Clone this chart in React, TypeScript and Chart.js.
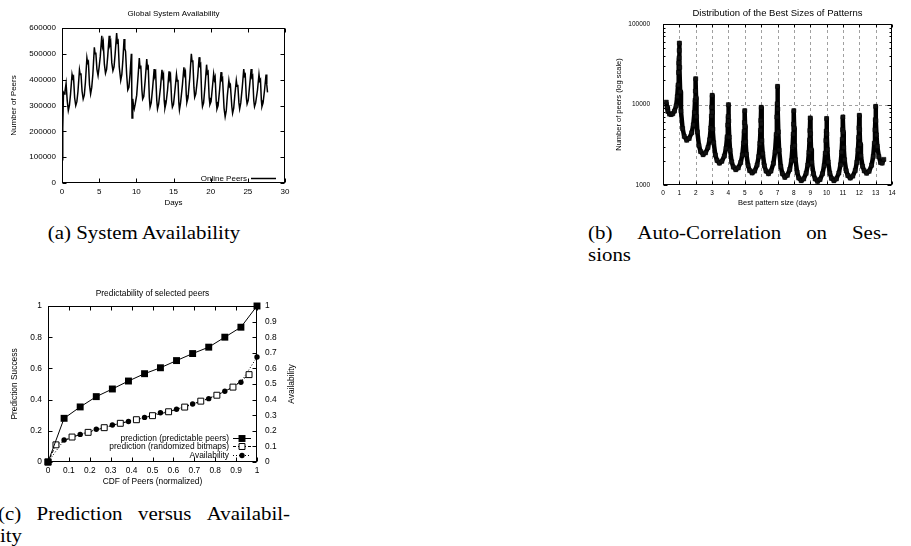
import React, { useEffect, useRef } from 'react';
import { Chart, registerables } from 'chart.js';

Chart.register(...registerables);

// ---------------- (a) Global System Availability ----------------
const availabilityDays = [
  0.0, 0.1, 0.2, 0.3, 0.4, 0.55, 0.7, 0.85, 1.0, 1.15, 1.35, 1.45, 1.55, 1.7, 1.85,
  2.0, 2.15, 2.35, 2.45, 2.55, 2.7, 2.85, 3.0, 3.15, 3.35, 3.45, 3.55, 3.7, 3.85,
  4.0, 4.15, 4.35, 4.45, 4.55, 4.7, 4.85, 5.0, 5.15, 5.35, 5.45, 5.55, 5.7, 5.85,
  6.0, 6.15, 6.35, 6.45, 6.55, 6.7, 6.85, 7.0, 7.15, 7.35, 7.45, 7.55, 7.7, 7.9,
  8.05, 8.2, 8.35, 8.45, 8.55, 8.7, 8.85, 9.0, 9.15, 9.33, 9.38, 9.42, 9.52, 9.62, 9.72, 9.85,
  10.05, 10.25, 10.4, 10.5, 10.6, 10.75, 10.85, 11.0, 11.2, 11.4, 11.5, 11.6, 11.75, 11.85,
  12.0, 12.2, 12.4, 12.5, 12.6, 12.75, 12.85, 13.0, 13.25, 13.45, 13.55, 13.65, 13.75, 13.85,
  14.0, 14.2, 14.4, 14.5, 14.6, 14.75, 14.85, 15.0, 15.2, 15.4, 15.5, 15.6, 15.72, 15.8,
  15.95, 16.2, 16.4, 16.5, 16.6, 16.72, 16.8, 16.95, 17.2, 17.4, 17.5, 17.6, 17.75, 17.85,
  18.0, 18.25, 18.45, 18.55, 18.65, 18.8, 18.9, 19.05, 19.25, 19.45, 19.55, 19.65, 19.8, 19.9,
  20.05, 20.2, 20.4, 20.5, 20.6, 20.75, 20.85, 21.0, 21.2, 21.4, 21.5, 21.6, 21.8, 21.95,
  22.1, 22.25, 22.45, 22.55, 22.65, 22.85, 22.95, 23.1, 23.25, 23.45, 23.55, 23.65, 23.8, 23.9,
  24.05, 24.25, 24.45, 24.55, 24.65, 24.8, 24.9, 25.05, 25.25, 25.45, 25.55, 25.65, 25.8, 25.9,
  26.05, 26.3, 26.5, 26.6, 26.7, 26.82, 26.9, 27.05, 27.25, 27.45, 27.55, 27.65,
];
const onlinePeers = [
  90000, 210000, 350000, 345000, 355000, 385000, 320000, 280000, 300000, 345000, 420000, 405000, 410000, 330000, 300000,
  315000, 355000, 438000, 420000, 425000, 355000, 325000, 340000, 390000, 484000, 465000, 470000, 380000, 345000,
  370000, 420000, 525000, 500000, 505000, 440000, 416000, 450000, 490000, 570000, 530000, 545000, 460000, 425000,
  440000, 490000, 570000, 535000, 545000, 465000, 435000, 450000, 500000, 580000, 545000, 550000, 450000, 397000,
  420000, 480000, 557000, 520000, 510000, 420000, 360000, 370000, 420000, 500000, 380000, 252000, 326000, 300000, 287000, 305000,
  340000, 420000, 484000, 445000, 455000, 360000, 325000, 335000, 400000, 480000, 445000, 450000, 330000, 294000,
  310000, 370000, 441000, 415000, 425000, 320000, 287000, 305000, 370000, 438000, 410000, 420000, 320000, 290000,
  310000, 360000, 432000, 405000, 415000, 320000, 294000, 305000, 360000, 420000, 395000, 400000, 310000, 283000,
  310000, 380000, 448000, 420000, 430000, 340000, 313000, 330000, 410000, 500000, 470000, 475000, 370000, 332000,
  345000, 410000, 487000, 455000, 460000, 330000, 296000, 310000, 380000, 458000, 425000, 430000, 330000, 304000,
  315000, 360000, 422000, 400000, 410000, 315000, 287000, 300000, 360000, 429000, 400000, 405000, 290000, 257000,
  280000, 340000, 397000, 375000, 380000, 295000, 270000, 290000, 340000, 397000, 375000, 380000, 310000, 287000,
  310000, 370000, 441000, 415000, 420000, 330000, 306000, 320000, 380000, 441000, 410000, 415000, 320000, 296000,
  310000, 360000, 420000, 395000, 400000, 320000, 296000, 310000, 360000, 420000, 380000, 351000,
];
const daysTicks = [0, 5, 10, 15, 20, 25, 30];
const peersTicks = [0, 100000, 200000, 300000, 400000, 500000, 600000];

// ---------------- (b) Distribution of the Best Sizes of Patterns ----------------
const patternSizeDays = [
  0.2, 0.25, 0.3, 0.4, 0.5, 0.6, 0.7, 0.8, 0.87, 0.92, 0.95, 0.97, 0.98, 0.99, 1.0,
  1.02, 1.05, 1.1, 1.2, 1.3, 1.45, 1.6, 1.75, 1.85, 1.92, 1.96, 1.98, 2.0,
  2.02, 2.05, 2.1, 2.2, 2.3, 2.45, 2.6, 2.75, 2.85, 2.92, 2.96, 2.98, 3.0,
  3.02, 3.05, 3.1, 3.2, 3.3, 3.45, 3.6, 3.75, 3.85, 3.92, 3.96, 3.98, 4.0,
  4.02, 4.05, 4.1, 4.2, 4.3, 4.45, 4.6, 4.75, 4.85, 4.92, 4.96, 4.98, 5.0,
  5.02, 5.05, 5.1, 5.2, 5.3, 5.45, 5.6, 5.75, 5.85, 5.92, 5.96, 5.98, 6.0,
  6.02, 6.05, 6.1, 6.2, 6.3, 6.45, 6.6, 6.75, 6.85, 6.92, 6.96, 6.98, 7.0,
  7.02, 7.05, 7.1, 7.2, 7.3, 7.45, 7.6, 7.75, 7.85, 7.92, 7.96, 7.98, 8.0,
  8.02, 8.05, 8.1, 8.2, 8.3, 8.45, 8.6, 8.75, 8.85, 8.92, 8.96, 8.98, 9.0,
  9.02, 9.05, 9.1, 9.2, 9.3, 9.45, 9.6, 9.75, 9.85, 9.92, 9.96, 9.98, 10.0,
  10.02, 10.05, 10.1, 10.2, 10.3, 10.45, 10.6, 10.75, 10.85, 10.92, 10.96, 10.98, 11.0,
  11.02, 11.05, 11.1, 11.2, 11.3, 11.45, 11.6, 11.75, 11.85, 11.92, 11.96, 11.98, 12.0,
  12.02, 12.05, 12.1, 12.2, 12.3, 12.45, 12.6, 12.75, 12.85, 12.92, 12.96, 12.98, 13.0,
  13.02, 13.05, 13.1, 13.2, 13.3, 13.4, 13.5,
];
const patternPeers = [
  10700, 9200, 8200, 7600, 7500, 7700, 8300, 9600, 12500, 17500, 25000, 33000, 38000, 47000, 58000,
  28900, 14400, 8280, 5020, 4020, 3600, 3790, 4440, 5580, 7940, 11300, 14700, 20900,
  12100, 7060, 4570, 3090, 2600, 2380, 2510, 2920, 3640, 5110, 7180, 9270, 13000,
  8010, 4930, 3350, 2360, 2020, 1870, 1970, 2290, 2840, 3970, 5540, 7130, 9950,
  6250, 3930, 2710, 1940, 1670, 1550, 1630, 1900, 2360, 3310, 4640, 5970, 8380,
  5360, 3440, 2400, 1750, 1510, 1410, 1490, 1770, 2250, 3280, 4780, 6340, 9220,
  5740, 3570, 2440, 1730, 1490, 1380, 1490, 1860, 2580, 4250, 7000, 10200, 16800,
  8770, 4570, 2720, 1700, 1380, 1245, 1320, 1560, 2000, 2940, 4300, 5710, 8380,
  5080, 3080, 2060, 1440, 1220, 1130, 1190, 1400, 1770, 2540, 3630, 4750, 6800,
  4330, 2750, 1910, 1380, 1190, 1110, 1170, 1380, 1740, 2490, 3570, 4680, 6700,
  4300, 2750, 1930, 1400, 1210, 1130, 1190, 1410, 1780, 2560, 3700, 4860, 7000,
  4520, 2920, 2060, 1500, 1310, 1220, 1290, 1510, 1910, 2740, 3920, 5130, 7340,
  4850, 3210, 2300, 1710, 1500, 1400, 1480, 1760, 2260, 3310, 4850, 6470, 9480,
  6310, 4190, 3020, 2250, 1900, 1870, 2080,
];
const sizeTicks = [0, 1, 2, 3, 4, 5, 6, 7, 8, 9, 10, 11, 12, 13, 14];
const sizeGrid = [1, 2, 3, 4, 5, 6, 7, 8, 9, 10, 11, 12, 13];
const logTicks = [1000, 10000, 100000];
const logGrid = [10000];
const logMinorTicks = [2000, 3000, 4000, 5000, 6000, 7000, 8000, 9000, 20000, 30000, 40000, 50000, 60000, 70000, 80000, 90000];

// ---------------- (c) Predictability of selected peers ----------------
const cdfPeers = [0, 0.077, 0.154, 0.231, 0.308, 0.385, 0.462, 0.538, 0.615, 0.692, 0.769, 0.846, 0.923, 1];
const predictableSuccess = [0, 0.28, 0.353, 0.419, 0.468, 0.519, 0.566, 0.604, 0.65, 0.695, 0.736, 0.8, 0.864, 1];
const cdfRandomized = [0, 0.038, 0.115, 0.192, 0.269, 0.346, 0.423, 0.5, 0.577, 0.654, 0.731, 0.808, 0.885, 0.962];
const randomizedSuccess = [0, 0.11, 0.16, 0.19, 0.22, 0.248, 0.271, 0.297, 0.322, 0.352, 0.39, 0.428, 0.48, 0.56];
const peerAvailability = [0, 0.141, 0.177, 0.21, 0.237, 0.26, 0.286, 0.316, 0.338, 0.372, 0.406, 0.453, 0.511, 0.673];
const cdfTicks = [0, 0.1, 0.2, 0.3, 0.4, 0.5, 0.6, 0.7, 0.8, 0.9, 1];
const successTicks = [0, 0.2, 0.4, 0.6, 0.8, 1];
const availabilityTicks = [0, 0.1, 0.2, 0.3, 0.4, 0.5, 0.6, 0.7, 0.8, 0.9, 1];

// ---------------- helpers ----------------
const SANS = '"Liberation Sans", Arial, Helvetica, sans-serif';
const SERIF = '"Liberation Serif", "Times New Roman", serif';

type Side = 'left' | 'right' | 'top' | 'bottom';
interface TickSet { scale: string; values: number[]; sides: Side[]; len: number }
interface GridSet { scale: string; values: number[] }
interface LegendCfg { textRight: number; sampleFrom: number; sampleTo: number; firstRow: number; rowStep: number; font: string }
interface TextCfg { text: string; x: number; y: number; rotate: number; font: string }

function makeFrame(cfg: { ticks: TickSet[]; grid?: GridSet[]; legend?: LegendCfg; texts?: TextCfg[] }) {
  return {
    id: 'gnuFrame',
    beforeDatasetsDraw(chart: any) {
      if (!cfg.grid) return;
      const { ctx, chartArea: a } = chart;
      ctx.save();
      ctx.strokeStyle = '#a0a0a0';
      ctx.lineWidth = 1;
      ctx.setLineDash([3, 3]);
      for (const g of cfg.grid) {
        const sc = chart.scales[g.scale];
        for (const v of g.values) {
          const p = Math.round(sc.getPixelForValue(v)) + 0.5;
          ctx.beginPath();
          if (sc.isHorizontal()) { ctx.moveTo(p, a.top); ctx.lineTo(p, a.bottom); }
          else { ctx.moveTo(a.left, p); ctx.lineTo(a.right, p); }
          ctx.stroke();
        }
      }
      ctx.restore();
    },
    afterDatasetsDraw(chart: any) {
      const { ctx, chartArea: a } = chart;
      const L = Math.round(a.left) + 0.5, R = Math.round(a.right) - 0.5;
      const T = Math.round(a.top) + 0.5, B = Math.round(a.bottom) - 0.5;
      ctx.save();
      ctx.strokeStyle = '#000';
      ctx.lineWidth = 1;
      ctx.setLineDash([]);
      ctx.beginPath();
      for (const t of cfg.ticks) {
        const sc = chart.scales[t.scale];
        for (const v of t.values) {
          const p = Math.round(sc.getPixelForValue(v)) + 0.5;
          for (const s of t.sides) {
            if (s === 'bottom') { ctx.moveTo(p, B); ctx.lineTo(p, B - t.len); }
            if (s === 'top') { ctx.moveTo(p, T); ctx.lineTo(p, T + t.len); }
            if (s === 'left') { ctx.moveTo(L, p); ctx.lineTo(L + t.len, p); }
            if (s === 'right') { ctx.moveTo(R, p); ctx.lineTo(R - t.len, p); }
          }
        }
      }
      ctx.stroke();
      ctx.strokeRect(L, T, R - L, B - T);

      if (cfg.legend) {
        const lg = cfg.legend;
        chart.data.datasets.forEach((ds: any, i: number) => {
          const y = Math.round(lg.firstRow + i * lg.rowStep) + 0.5;
          ctx.font = lg.font;
          ctx.fillStyle = '#000';
          ctx.textAlign = 'right';
          ctx.textBaseline = 'middle';
          ctx.fillText(ds.label, lg.textRight, y);
          ctx.save();
          ctx.strokeStyle = ds.borderColor;
          ctx.lineWidth = ds.borderWidth;
          ctx.setLineDash(ds.borderDash || []);
          ctx.beginPath();
          ctx.moveTo(lg.sampleFrom, y);
          ctx.lineTo(lg.sampleTo, y);
          ctx.stroke();
          ctx.restore();
          const r = ds.pointRadius || 0;
          if (r > 0) {
            const cx = (lg.sampleFrom + lg.sampleTo) / 2;
            ctx.save();
            ctx.setLineDash([]);
            ctx.fillStyle = ds.pointBackgroundColor;
            ctx.strokeStyle = ds.pointBorderColor;
            ctx.lineWidth = ds.pointBorderWidth;
            ctx.beginPath();
            if (ds.pointStyle === 'rect') {
              const h = Math.SQRT1_2 * r;
              ctx.rect(cx - h, y - h, 2 * h, 2 * h);
            } else {
              ctx.arc(cx, y, r, 0, Math.PI * 2);
            }
            ctx.fill();
            if (ds.pointBorderWidth > 0) ctx.stroke();
            ctx.restore();
          }
        });
      }
      if (cfg.texts) {
        for (const t of cfg.texts) {
          ctx.save();
          ctx.font = t.font;
          ctx.fillStyle = '#000';
          ctx.textAlign = 'center';
          ctx.textBaseline = 'middle';
          ctx.translate(t.x, t.y);
          ctx.rotate(t.rotate);
          ctx.fillText(t.text, 0, 0);
          ctx.restore();
        }
      }
      ctx.restore();
    },
  };
}

const setTicks = (values: number[]) => (axis: any) => {
  axis.ticks = values.map((value) => ({ value }));
};
const plainLabel = (v: any) => String(v);
const noGrid = { display: false, drawTicks: false };
const noBorder = { display: false };

// ---------------- chart builders ----------------
function buildA(canvas: HTMLCanvasElement) {
  const font = { family: SANS, size: 8, lineHeight: 1.2 };
  return new Chart(canvas, {
    type: 'line',
    data: {
      datasets: [{
        label: 'Online Peers',
        data: availabilityDays.map((d, i) => ({ x: d, y: onlinePeers[i] })),
        borderColor: '#000',
        borderWidth: 1.5,
        pointRadius: 0,
        tension: 0,
        fill: false,
      }],
    },
    options: {
      animation: false,
      responsive: false,
      events: [],
      layout: { padding: { left: 0, right: 15, top: 0, bottom: 0 } },
      plugins: {
        legend: { display: false },
        tooltip: { enabled: false },
        title: { display: true, text: 'Global System Availability', fullSize: false, color: '#000', font: { ...font, weight: 'normal' }, padding: { top: 9.2, bottom: 9.2 } },
      },
      scales: {
        x: {
          type: 'linear', min: 0, max: 30,
          afterBuildTicks: setTicks(daysTicks),
          afterFit: (s: any) => { s.height = 32; },
          grid: noGrid, border: noBorder,
          ticks: { font, color: '#000', padding: 4.2, maxRotation: 0, autoSkip: false, callback: plainLabel },
          title: { display: true, text: 'Days', color: '#000', font, padding: { top: 0, bottom: 7.2 } },
        },
        y: {
          type: 'linear', min: 0, max: 600000,
          afterBuildTicks: setTicks(peersTicks),
          afterFit: (s: any) => { s.width = 62; },
          grid: noGrid, border: noBorder,
          ticks: { font, color: '#000', padding: 6, autoSkip: false, callback: plainLabel },
          title: { display: true, text: 'Number of Peers', color: '#000', font, padding: { top: 9.2, bottom: 0 } },
        },
      },
    } as any,
    plugins: [makeFrame({
      ticks: [
        { scale: 'x', values: daysTicks, sides: ['bottom', 'top'], len: 4 },
        { scale: 'y', values: peersTicks, sides: ['left', 'right'], len: 4 },
      ],
      legend: { textRight: 247, sampleFrom: 251, sampleTo: 276, firstRow: 177.5, rowStep: 9, font: `8px ${SANS}` },
    })],
  });
}

function buildB(canvas: HTMLCanvasElement) {
  const tickFont = { family: SANS, size: 6.5, lineHeight: 1.2 };
  const labelFont = { family: SANS, size: 7.5, lineHeight: 1.2 };
  return new Chart(canvas, {
    type: 'line',
    data: {
      datasets: [{
        label: 'best pattern sizes',
        data: patternSizeDays.map((d, i) => ({ x: d, y: patternPeers[i] })),
        borderColor: '#000',
        borderWidth: 4.5,
        borderJoinStyle: 'round',
        pointStyle: 'rect',
        pointRadius: 2.9,
        pointBackgroundColor: '#111',
        pointBorderColor: '#000',
        pointBorderWidth: 0.5,
        tension: 0,
        fill: false,
      }],
    },
    options: {
      animation: false,
      responsive: false,
      events: [],
      layout: { padding: { left: 0, right: 19, top: 0, bottom: 0 } },
      plugins: {
        legend: { display: false },
        tooltip: { enabled: false },
        title: { display: true, text: 'Distribution of the Best Sizes of Patterns', fullSize: false, color: '#000', font: { family: SANS, size: 9.5, lineHeight: 1.2, weight: 'normal' }, padding: { top: 7.8, bottom: 4.8 } },
      },
      scales: {
        x: {
          type: 'linear', min: 0, max: 14,
          afterBuildTicks: setTicks(sizeTicks),
          afterFit: (s: any) => { s.height = 30; },
          grid: noGrid, border: noBorder,
          ticks: { font: tickFont, color: '#000', padding: 4.1, maxRotation: 0, autoSkip: false, callback: plainLabel },
          title: { display: true, text: 'Best pattern size (days)', color: '#000', font: labelFont, padding: { top: 0, bottom: 7.2 } },
        },
        y: {
          type: 'logarithmic', min: 1000, max: 100000,
          afterBuildTicks: setTicks(logTicks),
          afterFit: (s: any) => { s.width = 73; },
          grid: noGrid, border: noBorder,
          ticks: { font: tickFont, color: '#000', padding: 13, autoSkip: false, callback: plainLabel },
          title: { display: true, text: 'Number of peers (log scale)', color: '#000', font: labelFont, padding: { top: 24.5, bottom: 0 } },
        },
      },
    } as any,
    plugins: [makeFrame({
      grid: [
        { scale: 'x', values: sizeGrid },
        { scale: 'y', values: logGrid },
      ],
      ticks: [
        { scale: 'x', values: sizeTicks, sides: ['bottom', 'top'], len: 3 },
        { scale: 'y', values: logTicks, sides: ['left', 'right'], len: 4 },
        { scale: 'y', values: logMinorTicks, sides: ['left', 'right'], len: 2 },
      ],
    })],
  });
}

function buildC(canvas: HTMLCanvasElement) {
  const font = { family: SANS, size: 8.4, lineHeight: 1.2 };
  return new Chart(canvas, {
    type: 'line',
    data: {
      datasets: [
        {
          label: 'prediction (predictable peers)',
          data: cdfPeers.map((x, i) => ({ x, y: predictableSuccess[i] })),
          yAxisID: 'y',
          borderColor: '#000', borderWidth: 1, borderDash: [],
          pointStyle: 'rect', pointRadius: 4.9,
          pointBackgroundColor: '#000', pointBorderColor: '#000', pointBorderWidth: 0,
          tension: 0, fill: false, clip: false,
        },
        {
          label: 'prediction (randomized bitmaps)',
          data: cdfRandomized.map((x, i) => ({ x, y: randomizedSuccess[i] })),
          yAxisID: 'y',
          borderColor: '#000', borderWidth: 1, borderDash: [3, 2],
          pointStyle: 'rect', pointRadius: 4.2,
          pointBackgroundColor: '#fff', pointBorderColor: '#000', pointBorderWidth: 1,
          tension: 0, fill: false, clip: false,
        },
        {
          label: 'Availability',
          data: cdfPeers.map((x, i) => ({ x, y: peerAvailability[i] })),
          yAxisID: 'y2',
          borderColor: '#000', borderWidth: 1, borderDash: [1, 2],
          pointStyle: 'circle', pointRadius: 2.7,
          pointBackgroundColor: '#000', pointBorderColor: '#000', pointBorderWidth: 0,
          tension: 0, fill: false, clip: false,
        },
      ],
    },
    options: {
      animation: false,
      responsive: false,
      events: [],
      layout: { padding: { left: 0, right: 0, top: 0, bottom: 0 } },
      plugins: {
        legend: { display: false },
        tooltip: { enabled: false },
        title: { display: true, text: 'Predictability of selected peers', fullSize: false, color: '#000', font: { ...font, weight: 'normal' }, padding: { top: 8.3, bottom: 7.6 } },
      },
      scales: {
        x: {
          type: 'linear', min: 0, max: 1,
          afterBuildTicks: setTicks(cdfTicks),
          afterFit: (s: any) => { s.height = 33; },
          grid: noGrid, border: noBorder,
          ticks: { font, color: '#000', padding: 4, maxRotation: 0, autoSkip: false, callback: plainLabel },
          title: { display: true, text: 'CDF of Peers (normalized)', color: '#000', font, padding: { top: 0, bottom: 8 } },
        },
        y: {
          type: 'linear', position: 'left', min: 0, max: 1,
          afterBuildTicks: setTicks(successTicks),
          afterFit: (s: any) => { s.width = 48; },
          grid: noGrid, border: noBorder,
          ticks: { font, color: '#000', padding: 6, autoSkip: false, callback: plainLabel },
          title: { display: true, text: 'Prediction Success', color: '#000', font, padding: { top: 10, bottom: 0 } },
        },
        y2: {
          type: 'linear', position: 'right', min: 0, max: 1,
          afterBuildTicks: setTicks(availabilityTicks),
          afterFit: (s: any) => { s.width = 43; },
          grid: noGrid, border: noBorder,
          ticks: { font, color: '#000', padding: 8, autoSkip: false, callback: plainLabel },
          title: { display: false },
        },
      },
    } as any,
    plugins: [makeFrame({
      ticks: [
        { scale: 'x', values: cdfTicks, sides: ['bottom', 'top'], len: 4 },
        { scale: 'y', values: successTicks, sides: ['left'], len: 4 },
        { scale: 'y2', values: availabilityTicks, sides: ['right'], len: 4 },
      ],
      legend: { textRight: 229, sampleFrom: 233, sampleTo: 251, firstRow: 157.5, rowStep: 8.5, font: `8.4px ${SANS}` },
      texts: [{ text: 'Availability', x: 292, y: 104, rotate: -Math.PI / 2, font: `8.4px ${SANS}` }],
    })],
  });
}

// ---------------- components ----------------
function ChartBox(props: { build: (c: HTMLCanvasElement) => Chart; left: number; top: number; width: number; height: number }) {
  const ref = useRef<HTMLCanvasElement>(null);
  useEffect(() => {
    const chart = props.build(ref.current as HTMLCanvasElement);
    return () => chart.destroy();
  }, []);
  return (
    <canvas
      ref={ref}
      width={props.width}
      height={props.height}
      style={{ position: 'absolute', left: props.left, top: props.top, width: props.width, height: props.height, display: 'block' }}
    />
  );
}

const CAP_SCALE = 1.1;
function CaptionLine(props: { text: string; left: number; top: number; width?: number; center?: boolean }) {
  const base: React.CSSProperties = {
    position: 'absolute',
    left: props.left,
    top: props.top,
    fontFamily: SERIF,
    fontSize: 19,
    lineHeight: '22px',
    color: '#000',
    whiteSpace: 'nowrap',
    transform: `scaleX(${CAP_SCALE})`,
    transformOrigin: '0 0',
  };
  if (props.width && props.center) {
    return <div style={{ ...base, width: props.width / CAP_SCALE, textAlign: 'center' }}>{props.text}</div>;
  }
  if (props.width) {
    const words = props.text.split(' ');
    return (
      <div style={{ ...base, width: props.width / CAP_SCALE, display: 'flex', justifyContent: 'space-between' }}>
        {words.map((w, i) => <span key={i}>{w}</span>)}
      </div>
    );
  }
  return <div style={base}>{props.text}</div>;
}

export default function App() {
  return (
    <div style={{ position: 'absolute', left: 0, top: 0, width: 911, height: 546, background: '#fff', overflow: 'hidden' }}>
      <ChartBox build={buildA} left={0} top={0} width={300} height={215} />
      <ChartBox build={buildB} left={590} top={0} width={321} height={215} />
      <ChartBox build={buildC} left={0} top={280} width={300} height={215} />
      <CaptionLine text="(a) System Availability" left={-2} top={222} width={292} center />
      <CaptionLine text="(b) Auto-Correlation on Ses-" left={588} top={222} width={300} />
      <CaptionLine text="sions" left={588} top={244} />
      <CaptionLine text="(c) Prediction versus Availabil-" left={-2} top={503} width={292} />
      <CaptionLine text="ity" left={0} top={525} />
    </div>
  );
}
